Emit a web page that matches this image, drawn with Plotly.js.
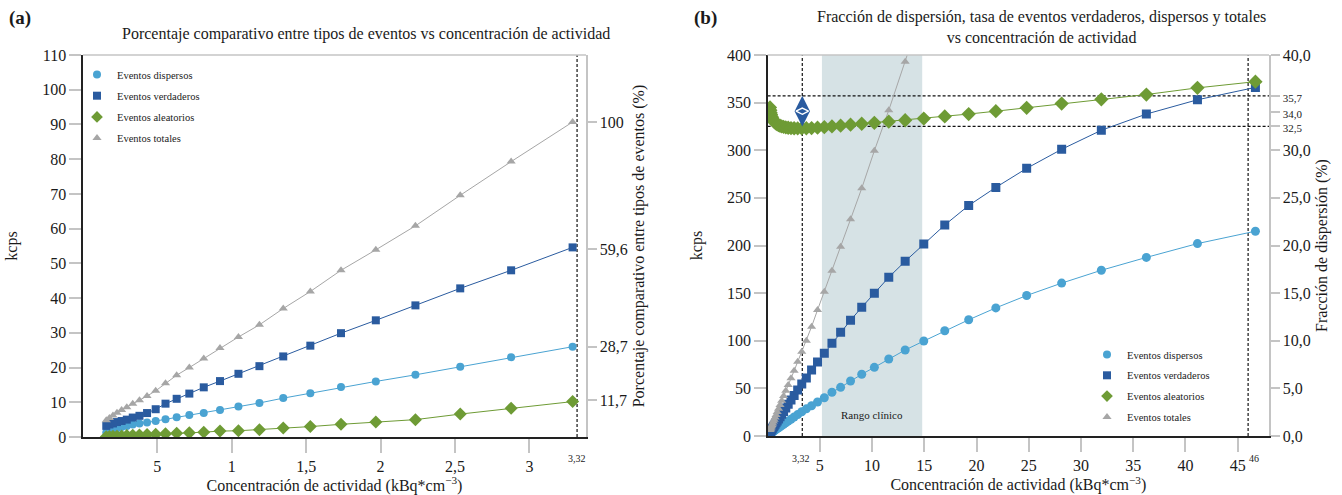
<!DOCTYPE html>
<html>
<head>
<meta charset="utf-8">
<script src="https://cdn.plot.ly/plotly-3.0.1.min.js"></script>
<style>html,body{margin:0;padding:0;background:#fff;}#chart{width:1342px;height:495px;}</style>
</head>
<body>
<div id="chart"></div>
<script>
// ---------- Panel (a) data ----------
const xL     = [0.157, 0.178, 0.202, 0.229, 0.26, 0.295, 0.335, 0.38, 0.431, 0.489, 0.555, 0.63, 0.715, 0.812, 0.921, 1.045, 1.186, 1.346, 1.528, 1.734, 1.968, 2.234, 2.535, 2.877, 3.29];
const scatL  = [1.3, 1.7, 2.1, 2.5, 2.9, 3.2, 3.6, 3.9, 4.2, 4.6, 5.1, 5.7, 6.3, 6.9, 7.8, 8.8, 9.8, 11.2, 12.6, 14.4, 16.0, 17.9, 20.2, 23.0, 26.0];
const trueL  = [3.2, 3.6, 3.9, 4.3, 4.6, 5.0, 5.6, 6.1, 6.9, 8.0, 9.6, 11.0, 12.5, 14.3, 16.1, 18.2, 20.4, 23.2, 26.3, 29.9, 33.6, 37.9, 42.8, 48.0, 54.6];
const randL  = [0.1, 0.15, 0.2, 0.25, 0.3, 0.4, 0.5, 0.6, 0.7, 0.8, 0.9, 1.1, 1.2, 1.4, 1.7, 1.8, 2.1, 2.6, 3.0, 3.65, 4.3, 5.0, 6.6, 8.3, 10.2];
const totL   = [4.8, 5.5, 6.2, 7.0, 7.8, 8.6, 9.6, 10.6, 11.8, 13.3, 15.5, 17.8, 20.0, 22.6, 25.6, 28.8, 32.3, 37.0, 41.9, 48.0, 53.9, 60.8, 69.6, 79.3, 90.7];
const pctTickVals = [11.7, 28.7, 59.6, 100];
const pctTickText = ['11,7', '28,7', '59,6', '100'];
const totalAtMaxL = 90.7;          // kcps equal to 100 %
const xTickValsL = [0.5, 1, 1.5, 2, 2.5, 3];
const xTickTextL = ['5', '1', '1,5', '2', '2,5', '3'];
const vLinesL = [3.32];
const vLabelsL = ['3,32'];

// ---------- Panel (b) data ----------
const xR     = [0.23, 0.26, 0.29, 0.33, 0.38, 0.43, 0.49, 0.56, 0.63, 0.72, 0.81, 0.92, 1.05, 1.19, 1.35, 1.53, 1.74, 1.97, 2.24, 2.54, 2.88, 3.27, 3.71, 4.21, 4.78, 5.43, 6.16, 6.99, 7.94, 9.01, 10.22, 11.6, 13.17, 14.95, 16.96, 19.25, 21.85, 24.8, 28.15, 31.95, 36.26, 41.15, 46.7];
const scatR  = [2.1, 2.3, 2.6, 3.0, 3.4, 3.9, 4.4, 4.9, 5.5, 6.2, 6.9, 7.7, 8.7, 9.7, 10.9, 12.3, 13.9, 15.6, 17.6, 19.9, 22.5, 25.5, 28.5, 31.8, 35.7, 40.2, 45.9, 51.1, 57.7, 64.8, 72.1, 80.8, 90.3, 99.7, 110.5, 122.0, 134.5, 147.5, 160.5, 174.0, 187.5, 202.0, 215.0];
const trueR  = [4.0, 4.5, 5.0, 5.7, 6.5, 7.4, 8.4, 9.6, 10.8, 12.3, 13.8, 15.7, 17.8, 20.2, 22.8, 25.7, 29.5, 33.3, 37.8, 42.5, 48.3, 54.6, 60.9, 69.3, 77.7, 86.8, 97.3, 108.9, 121.5, 135.1, 149.8, 166.6, 183.4, 201.6, 221.5, 242.0, 261.0, 281.0, 301.0, 321.0, 338.0, 353.0, 366.0];
const sfR    = [34.5, 34.2, 33.95, 33.75, 33.55, 33.4, 33.25, 33.1, 33.0, 32.9, 32.8, 32.72, 32.64, 32.57, 32.5, 32.45, 32.4, 32.36, 32.33, 32.31, 32.3, 32.3, 32.31, 32.33, 32.37, 32.42, 32.5, 32.58, 32.68, 32.78, 32.88, 33.0, 33.15, 33.33, 33.55, 33.8, 34.1, 34.45, 34.9, 35.35, 35.85, 36.55, 37.2];
const totR   = [6.2, 7.0, 7.8, 8.9, 10.2, 11.6, 13.2, 15.1, 17.0, 19.5, 22.0, 25.1, 28.7, 32.6, 37.0, 42.0, 47.5, 53.5, 60.5, 68.5, 78.0, 88.5, 100.1, 114.8, 132.3, 151.5, 173.6, 198.7, 227.5, 260.0, 299.5, 342.0, 393.0, 452.0];
const xTickValsR = [5, 10, 15, 20, 25, 30, 35, 40, 45];
const xTickTextR = ['5', '10', '15', '20', '25', '30', '35', '40', '45'];
const sfTickVals = [0, 5, 10, 15, 20, 25, 30, 32.5, 34.0, 35.7, 40];
const sfTickText = ['0,0', '5,0', '10,0', '15,0', '20,0', '25,0', '30,0',
  '<span style="font-size:11px">32,5</span>', '<span style="font-size:11px">34,0</span>',
  '<span style="font-size:11px">35,7</span>', '40,0'];
const vLinesR = [3.32, 46];
const vLabelsR = ['3,32', '46'];
const hLinesR = [35.7, 32.5];
const clinicalRange = [5.2, 14.8];
const rangeMarkX = [3.32];
const rangeMarkY = [34.1];
const seriesNames = ['Eventos dispersos', 'Eventos verdaderos', 'Eventos aleatorios', 'Eventos totales'];

// ---------- styles ----------
const FONT = 'Liberation Serif, DejaVu Serif, serif';
const C_SC = '#4aa3d2', C_TR = '#2a5b9f', C_RA = '#6e9b35', C_TO = '#a6a6a6';
const TXT = '#1a1a1a', GRID = '#c4c4c4';
const COLORS = [C_SC, C_TR, C_RA, C_TO];
const SYMBOLS = ['circle', 'square', 'diamond', 'triangle-up'];
const LEG_SIZES = [8, 8, 9, 8];

const traces = [];
function series(x, y, color, symbol, size, xa, ya) {
  return {x: x, y: y, type: 'scatter', mode: 'lines+markers', xaxis: xa, yaxis: ya, showlegend: false,
    line: {color: color, width: 1}, marker: {color: color, symbol: symbol, size: size}, hoverinfo: 'x+y'};
}
// panel a
traces.push(series(xL, scatL, C_SC, 'circle', 8, 'x', 'y'));
traces.push(series(xL, trueL, C_TR, 'square', 8, 'x', 'y'));
traces.push(series(xL, randL, C_RA, 'diamond', 10, 'x', 'y'));
traces.push(series(xL, totL, C_TO, 'triangle-up', 8, 'x', 'y'));
// invisible trace to activate y2 of panel a
traces.push({x: [xL[xL.length - 1]], y: [100], xaxis: 'x', yaxis: 'y2', type: 'scatter', mode: 'markers',
  marker: {opacity: 0}, showlegend: false, hoverinfo: 'skip'});
// panel b
traces.push(series(xR, scatR, C_SC, 'circle', 9, 'x2', 'y3'));
traces.push(series(xR, trueR, C_TR, 'square', 9, 'x2', 'y3'));
traces.push(series(xR, sfR, C_RA, 'diamond', 11, 'x2', 'y4'));
traces.push(series(xR.slice(0, totR.length), totR, C_TO, 'triangle-up', 8, 'x2', 'y3'));
traces.push({x: rangeMarkX, y: rangeMarkY, xaxis: 'x2', yaxis: 'y4', type: 'scatter', mode: 'markers',
  marker: {symbol: 'diamond-tall', size: 22, color: C_TR}, showlegend: false, hoverinfo: 'skip'});
traces.push({x: rangeMarkX, y: rangeMarkY, xaxis: 'x2', yaxis: 'y4', type: 'scatter', mode: 'markers',
  marker: {symbol: 'diamond-wide-open', size: 9, color: '#ffffff', line: {width: 1.3, color: '#ffffff'}}, showlegend: false, hoverinfo: 'skip'});
// legend-only entries (markers without line)
['legend', 'legend2'].forEach((lg, k) => {
  seriesNames.forEach((nm, i) => {
    traces.push({x: [null], y: [null], type: 'scatter', mode: 'markers', name: nm, legend: lg,
      legendgroup: lg + i, xaxis: k === 0 ? 'x' : 'x2', yaxis: k === 0 ? 'y' : 'y3',
      marker: {color: COLORS[i], symbol: SYMBOLS[i], size: LEG_SIZES[i]}, hoverinfo: 'skip'});
  });
});

const tickFont = {family: FONT, size: 16, color: TXT};
const titleFont = {family: FONT, size: 16, color: TXT};
const dYa = [1 - 437 / 495, 1 - 55 / 495];

const layout = {
  width: 1342, height: 495,
  margin: {l: 0, r: 0, t: 0, b: 0},
  paper_bgcolor: '#ffffff', plot_bgcolor: 'rgba(0,0,0,0)',
  separators: ',.',
  font: {family: FONT, color: TXT},
  showlegend: true,
  xaxis: {domain: [82.9 / 1342, 586 / 1342], range: [0, 3.38], anchor: 'y',
    tickvals: xTickValsL, ticktext: xTickTextL, ticks: 'outside', ticklen: 14, tickwidth: 2, tickcolor: GRID,
    showline: true, linecolor: '#222', linewidth: 1.5, showgrid: false, zeroline: false, tickfont: tickFont,
    title: {text: 'Concentración de actividad (kBq*cm<sup>−3</sup>)', font: titleFont, standoff: 2}},
  yaxis: {domain: dYa, range: [0, 110], anchor: 'x', dtick: 10, tick0: 0,
    ticks: 'outside', ticklen: 12, tickwidth: 2, tickcolor: GRID,
    showline: true, linecolor: '#222', linewidth: 1.5, showgrid: false, zeroline: false, tickfont: tickFont,
    title: {text: 'kcps', font: titleFont, standoff: 20}},
  yaxis2: {overlaying: 'y', side: 'right', anchor: 'x', range: [0, 110 / totalAtMaxL * 100],
    tickvals: pctTickVals, ticktext: pctTickText, ticks: 'outside', ticklen: 9, tickwidth: 2, tickcolor: GRID,
    showline: true, linecolor: GRID, linewidth: 1.5, showgrid: false, zeroline: false, tickfont: tickFont,
    title: {text: 'Porcentaje comparativo entre tipos de eventos (%)', font: titleFont, standoff: 6}},
  xaxis2: {domain: [767.6 / 1342, 1269 / 1342], range: [0, 48], anchor: 'y3',
    tickvals: xTickValsR, ticktext: xTickTextR, ticks: 'outside', ticklen: 14, tickwidth: 2, tickcolor: GRID,
    showline: true, linecolor: '#222', linewidth: 1.5, showgrid: false, zeroline: false, tickfont: tickFont,
    title: {text: 'Concentración de actividad (kBq*cm<sup>−3</sup>)', font: titleFont, standoff: 2}},
  yaxis3: {domain: [1 - 436 / 495, 1 - 55 / 495], range: [0, 400], anchor: 'x2', dtick: 50, tick0: 0,
    ticks: 'outside', ticklen: 12, tickwidth: 2, tickcolor: GRID,
    showline: true, linecolor: '#222', linewidth: 1.5, showgrid: false, zeroline: false, tickfont: tickFont,
    title: {text: 'kcps', font: titleFont, standoff: 20}},
  yaxis4: {overlaying: 'y3', side: 'right', anchor: 'x2', range: [0, 40],
    tickvals: sfTickVals, ticktext: sfTickText, ticks: 'outside', ticklen: 9, tickwidth: 2, tickcolor: GRID,
    showline: true, linecolor: GRID, linewidth: 1.5, showgrid: false, zeroline: false, tickfont: tickFont,
    title: {text: 'Fracción de dispersión (%)', font: titleFont, standoff: 6}},
  legend: {x: 77 / 1342, y: 1 - 60 / 495, xanchor: 'left', yanchor: 'top', bgcolor: 'rgba(0,0,0,0)',
    font: {family: FONT, size: 10.5, color: TXT}, traceorder: 'grouped', tracegroupgap: 2.2, itemwidth: 30},
  legend2: {x: 1087 / 1342, y: 1 - 340 / 495, xanchor: 'left', yanchor: 'top', bgcolor: 'rgba(0,0,0,0)',
    font: {family: FONT, size: 10.5, color: TXT}, traceorder: 'grouped', tracegroupgap: 1.8, itemwidth: 30},
  shapes: [],
  annotations: []
};

const dash = {color: '#111', width: 1.2, dash: '3px,2px'};
layout.shapes.push({type: 'line', xref: 'x domain', yref: 'y domain', x0: 0, x1: 1, y0: 1, y1: 1, line: {color: GRID, width: 1.5}});
layout.shapes.push({type: 'line', xref: 'x2 domain', yref: 'y3 domain', x0: 0, x1: 1, y0: 1, y1: 1, line: {color: GRID, width: 1.5}});
layout.shapes.push({type: 'rect', xref: 'x2', yref: 'y3 domain', x0: clinicalRange[0], x1: clinicalRange[1], y0: 0, y1: 1,
  fillcolor: '#d6e2e5', line: {width: 0}, layer: 'below'});
vLinesL.forEach(v => layout.shapes.push({type: 'line', xref: 'x', yref: 'y domain', x0: v, x1: v, y0: 0, y1: 1, line: dash, layer: 'below'}));
vLinesR.forEach(v => layout.shapes.push({type: 'line', xref: 'x2', yref: 'y3 domain', x0: v, x1: v, y0: 0, y1: 1, line: dash, layer: 'below'}));
hLinesR.forEach(v => layout.shapes.push({type: 'line', xref: 'x2 domain', yref: 'y4', x0: 0, x1: 1, y0: v, y1: v, line: dash, layer: 'below'}));

const ann = layout.annotations;
ann.push({text: '<b>(a)</b>', xref: 'paper', yref: 'paper', x: 7 / 1342, y: 1 - 18 / 495, xanchor: 'left', yanchor: 'middle', showarrow: false, font: {family: FONT, size: 19, color: TXT}});
ann.push({text: '<b>(b)</b>', xref: 'paper', yref: 'paper', x: 692 / 1342, y: 1 - 18 / 495, xanchor: 'left', yanchor: 'middle', showarrow: false, font: {family: FONT, size: 19, color: TXT}});
ann.push({text: 'Porcentaje comparativo entre tipos de eventos vs concentración de actividad', xref: 'paper', yref: 'paper',
  x: 366 / 1342, y: 1 - 34 / 495, xanchor: 'center', yanchor: 'middle', showarrow: false, font: {family: FONT, size: 16, color: TXT}});
ann.push({text: 'Fracción de dispersión, tasa de eventos verdaderos, dispersos y totales<br>vs concentración de actividad', xref: 'paper', yref: 'paper',
  x: 1041 / 1342, y: 1 - 27 / 495, xanchor: 'center', yanchor: 'middle', showarrow: false, font: {family: FONT, size: 16, color: TXT}});
vLinesL.forEach((v, i) => ann.push({text: vLabelsL[i], xref: 'x', yref: 'paper', x: v, y: 1 - 458 / 495, xanchor: 'center', yanchor: 'middle', showarrow: false, font: {family: FONT, size: 10, color: TXT}}));
vLinesR.forEach((v, i) => ann.push({text: vLabelsR[i], xref: 'x2', yref: 'paper', x: v, y: 1 - 458 / 495, xanchor: 'center', yanchor: 'middle', xshift: i === 0 ? -1 : 6, showarrow: false, font: {family: FONT, size: 10, color: TXT}}));
ann.push({text: 'Rango clínico', xref: 'x2', yref: 'paper', x: (clinicalRange[0] + clinicalRange[1]) / 2, y: 1 - 415 / 495, xanchor: 'center', yanchor: 'middle', showarrow: false, font: {family: FONT, size: 11, color: TXT}});

Plotly.newPlot('chart', traces, layout, {displayModeBar: false, staticPlot: true});
</script>
</body>
</html>
